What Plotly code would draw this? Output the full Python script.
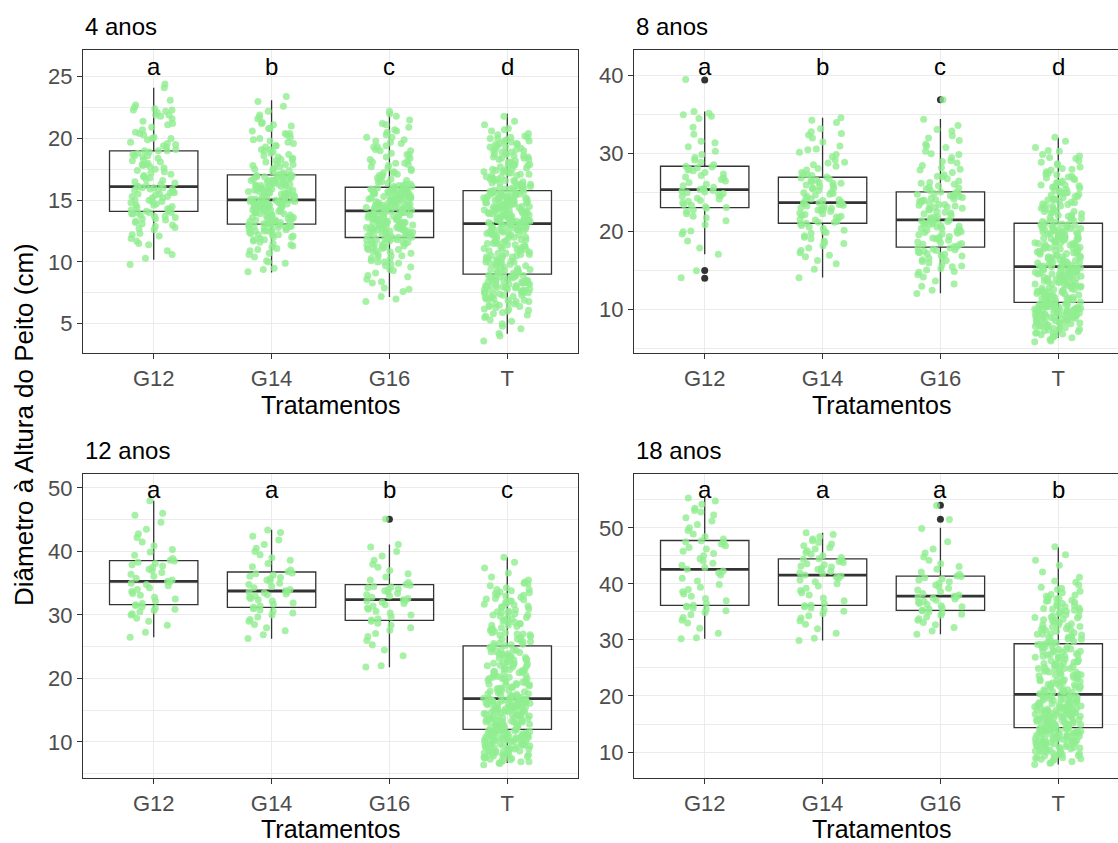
import plotly.graph_objects as go

# ---------------- data ----------------
categories = ["G12", "G14", "G16", "T"]
panel_titles = ["4 anos", "8 anos", "12 anos", "18 anos"]
letters_4 = ["a", "b", "c", "d"]
letters_8 = ["a", "b", "c", "d"]
letters_12 = ["a", "a", "b", "c"]
letters_18 = ["a", "a", "a", "b"]

# box statistics per treatment (G12, G14, G16, T)
q1_4 = [14.1, 13.06, 11.98, 9.02]
med_4 = [16.1, 15.03, 14.14, 13.11]
q3_4 = [19.0, 17.05, 16.05, 15.78]
lo_4 = [10.18, 9.15, 7.16, 4.19]
hi_4 = [24.1, 23.1, 22.1, 22.0]
out_4 = [[], [], [], []]

q1_8 = [23.1, 21.09, 18.02, 10.94]
med_8 = [25.4, 23.74, 21.52, 15.54]
q3_8 = [28.39, 26.98, 25.1, 21.09]
lo_8 = [17.1, 14.14, 12.13, 6.37]
hi_8 = [35.4, 34.62, 34.45, 32.06]
out_8 = [[39.45, 15.03, 14.05], [], [36.9], []]

q1_12 = [31.63, 31.2, 29.16, 12.0]
med_12 = [35.3, 33.78, 32.41, 16.82]
q3_12 = [38.56, 36.77, 34.78, 25.12]
lo_12 = [26.48, 26.27, 21.76, 6.7]
hi_12 = [48.0, 43.44, 41.08, 39.08]
out_12 = [[], [], [45.07], []]

q1_18 = [36.16, 36.16, 35.26, 14.35]
med_18 = [42.57, 41.56, 37.82, 20.29]
q3_18 = [47.74, 44.47, 41.38, 29.32]
lo_18 = [30.2, 29.9, 31.0, 7.8]
hi_18 = [55.3, 49.1, 50.0, 46.55]
out_18 = [[], [], [54.04, 51.54], []]

# individual trees (DAP, cm)
a4_G12 = [9.8, 10.3, 10.9, 11.4, 11.7, 11.9, 12.2, 12.3, 12.6, 12.8, 12.9, 13.1, 13.2, 13.3, 13.5, 13.5, 13.6, 13.7, 13.8, 13.9, 13.9, 14.0, 14.0, 14.1, 14.1,
          14.2, 14.3, 14.3, 14.5, 14.6, 14.6, 14.8, 14.9, 14.9, 15.0, 15.2, 15.2, 15.3, 15.4, 15.5, 15.6, 15.6, 15.7, 15.8, 15.9, 15.9, 16.0, 16.0, 16.1, 16.1,
          16.2, 16.3, 16.5, 16.6, 16.8, 16.9, 17.0, 17.2, 17.3, 17.4, 17.6, 17.7, 17.8, 17.9, 18.0, 18.1, 18.2, 18.4, 18.5, 18.6, 18.7, 18.8, 18.9, 19.0, 19.0,
          19.1, 19.3, 19.4, 19.6, 19.7, 19.9, 20.0, 20.1, 20.3, 20.4, 20.7, 20.9, 21.1, 21.4, 21.6, 21.8, 21.9, 22.1, 22.2, 22.3, 22.4, 22.7, 23.1, 24.1, 24.4,
          10.6, 11.5, 12.1, 12.7, 13.0, 13.4, 13.7, 14.0, 14.4, 14.7, 15.0, 15.3, 15.5, 15.8, 16.0, 16.4, 16.7, 17.1, 17.5, 17.9, 18.3, 18.6, 19.0, 19.5, 20.0,
          20.5, 21.2, 21.9, 22.3, 22.5]
a4_G14 = [9.2, 9.4, 9.9, 10.1, 10.4, 10.6, 10.9, 11.0, 11.2, 11.3, 11.5, 11.6, 11.7, 11.8, 11.9, 12.0, 12.1, 12.2, 12.2, 12.3, 12.4, 12.5, 12.5, 12.6, 12.7, 12.7, 12.8, 12.8, 12.9, 12.9, 13.0, 13.0, 13.0, 13.1, 13.1,
          13.2, 13.2, 13.3, 13.3, 13.4, 13.5, 13.5, 13.6, 13.6, 13.7, 13.8, 13.8, 13.9, 14.0, 14.0, 14.1, 14.1, 14.2, 14.3, 14.3, 14.4, 14.4, 14.5, 14.5, 14.6, 14.6, 14.7, 14.7, 14.8, 14.8, 14.9, 14.9, 15.0, 15.0, 15.0,
          15.1, 15.1, 15.2, 15.3, 15.3, 15.4, 15.5, 15.5, 15.6, 15.7, 15.7, 15.8, 15.9, 15.9, 16.0, 16.0, 16.1, 16.2, 16.2, 16.3, 16.3, 16.4, 16.5, 16.5, 16.6, 16.6, 16.7, 16.7, 16.8, 16.8, 16.9, 16.9, 17.0, 17.0, 17.0,
          17.1, 17.2, 17.4, 17.5, 17.6, 17.8, 17.9, 18.0, 18.2, 18.3, 18.4, 18.6, 18.7, 18.9, 19.0, 19.1, 19.3, 19.4, 19.6, 19.8, 19.9, 20.1, 20.3, 20.4, 20.6, 20.8, 21.0, 21.1, 21.3, 21.6, 21.9, 22.2, 22.6, 23.0, 23.4,
          9.5, 10.0, 10.7, 11.1, 11.4, 11.8, 12.0, 12.2, 12.4, 12.6, 12.8, 12.9, 13.1, 13.2, 13.4, 13.5, 13.7, 13.8, 13.9, 14.0, 14.1, 14.2, 14.3, 14.4, 14.5, 14.6, 14.7, 14.8, 14.9, 15.0,
          15.1, 15.2, 15.3, 15.4, 15.5, 15.6, 15.7, 15.8, 15.9, 16.0, 16.1, 16.2, 16.3, 16.4, 16.5, 16.6, 16.7, 16.8, 16.9, 17.0, 17.1, 17.3, 17.5, 17.7, 17.9, 18.1, 18.3, 18.5, 18.8, 19.1,
          19.4, 19.7, 20.0, 20.4, 20.8, 21.2, 21.7, 12.5, 13.3, 13.6, 14.2, 14.6, 15.0, 15.4, 15.8, 16.2, 16.6, 13.0, 14.8, 15.6]
a4_G16 = [6.8, 7.2, 7.6, 7.9, 8.3, 8.6, 8.9, 9.1, 9.4, 9.6, 9.8, 10.0, 10.1, 10.3, 10.4, 10.5, 10.7, 10.8, 10.9, 11.0, 11.1, 11.2, 11.2, 11.3, 11.4, 11.4, 11.5, 11.6, 11.6, 11.7, 11.7, 11.8, 11.8, 11.9, 11.9, 12.0, 12.0,
          12.1, 12.1, 12.2, 12.2, 12.3, 12.3, 12.4, 12.4, 12.5, 12.5, 12.6, 12.6, 12.7, 12.7, 12.8, 12.8, 12.9, 12.9, 13.0, 13.0, 13.1, 13.1, 13.2, 13.3, 13.3, 13.4, 13.4, 13.5, 13.5, 13.6, 13.7, 13.7, 13.8, 13.8, 13.9, 14.0, 14.0, 14.1,
          14.2, 14.2, 14.3, 14.3, 14.4, 14.4, 14.5, 14.5, 14.6, 14.6, 14.7, 14.7, 14.8, 14.8, 14.9, 14.9, 15.0, 15.0, 15.1, 15.1, 15.2, 15.2, 15.3, 15.3, 15.4, 15.4, 15.5, 15.5, 15.6, 15.6, 15.7, 15.7, 15.8, 15.8, 15.9, 15.9, 16.0, 16.0,
          16.1, 16.2, 16.3, 16.5, 16.6, 16.7, 16.9, 17.0, 17.2, 17.3, 17.4, 17.6, 17.7, 17.9, 18.0, 18.2, 18.3, 18.5, 18.7, 18.8, 19.0, 19.1, 19.3, 19.4, 19.6, 19.8, 19.9, 20.1, 20.3, 20.5, 20.7, 20.9, 21.2, 21.5, 21.8, 22.0, 22.2,
          7.0, 7.8, 8.4, 8.8, 9.3, 9.7, 10.0, 10.2, 10.5, 10.8, 11.0, 11.2, 11.4, 11.6, 11.8, 12.0, 12.1, 12.3, 12.4, 12.6, 12.7, 12.9, 13.0, 13.1, 13.2, 13.3, 13.4, 13.5, 13.6, 13.7,
          13.8, 13.9, 14.0, 14.1, 14.2, 14.3, 14.4, 14.5, 14.6, 14.7, 14.8, 14.9, 15.0, 15.1, 15.2, 15.3, 15.4, 15.5, 15.6, 15.7, 15.8, 15.9, 16.0, 16.2, 16.4, 16.6, 16.8, 17.0, 17.2, 17.5,
          17.8, 18.1, 18.4, 18.7, 19.0, 19.3, 19.7, 20.1, 20.6, 21.1, 11.1, 11.5, 11.9, 12.2, 12.5, 12.8, 13.1, 13.4, 13.7, 14.0, 14.3, 14.6, 14.9, 15.2, 15.5, 15.8, 16.1, 16.5,
          9.9, 10.6, 12.0, 12.6, 13.2, 13.8, 14.4, 15.0, 15.6, 16.3, 17.1, 18.0]
a4_T = [3.6, 4.2, 4.6, 5.0, 5.3, 5.5, 5.6, 5.8, 6.0, 6.1, 6.2, 6.3, 6.4, 6.5, 6.6, 6.7, 6.8, 6.9, 7.0, 7.0, 7.1, 7.2, 7.3, 7.3, 7.4, 7.5, 7.5, 7.6, 7.7, 7.7, 7.8, 7.8, 7.9, 7.9, 8.0, 8.0, 8.1, 8.1, 8.2, 8.2, 8.3, 8.3, 8.4, 8.4, 8.5, 8.5, 8.6, 8.6, 8.7, 8.7, 8.8, 8.8, 8.9, 8.9, 9.0,
        9.1, 9.2, 9.3, 9.3, 9.4, 9.5, 9.6, 9.7, 9.8, 9.9, 10.0, 10.0, 10.1, 10.2, 10.3, 10.4, 10.5, 10.5, 10.6, 10.7, 10.8, 10.9, 11.0, 11.0, 11.1, 11.2, 11.3, 11.4, 11.5, 11.5, 11.6, 11.7, 11.8, 11.9, 12.0, 12.0, 12.1, 12.2, 12.2, 12.3, 12.4, 12.4, 12.5, 12.6, 12.6, 12.7, 12.7, 12.8, 12.8, 12.9, 12.9, 13.0, 13.0, 13.1, 13.1,
        13.2, 13.2, 13.3, 13.3, 13.3, 13.4, 13.4, 13.5, 13.5, 13.6, 13.6, 13.7, 13.7, 13.8, 13.8, 13.9, 13.9, 14.0, 14.0, 14.0, 14.1, 14.1, 14.2, 14.2, 14.3, 14.3, 14.4, 14.4, 14.5, 14.5, 14.6, 14.6, 14.7, 14.7, 14.8, 14.8, 14.9, 14.9, 15.0, 15.0, 15.1, 15.1, 15.2, 15.2, 15.3, 15.3, 15.4, 15.4, 15.5, 15.5, 15.6, 15.6, 15.7, 15.7, 15.8,
        15.9, 15.9, 16.0, 16.1, 16.1, 16.2, 16.3, 16.3, 16.4, 16.5, 16.6, 16.6, 16.7, 16.8, 16.9, 17.0, 17.0, 17.1, 17.2, 17.3, 17.4, 17.5, 17.6, 17.7, 17.8, 17.9, 18.0, 18.1, 18.2, 18.3, 18.4, 18.5, 18.6, 18.7, 18.8, 18.9, 19.0, 19.1, 19.2, 19.3, 19.4, 19.5, 19.6, 19.7, 19.8, 19.9, 20.0, 20.1, 20.2, 20.4, 20.6, 20.8, 21.1, 21.4, 21.8,
        4.0, 4.8, 5.2, 5.7, 5.9, 6.2, 6.4, 6.6, 6.8, 6.9, 7.1, 7.2, 7.4, 7.5, 7.6, 7.7, 7.8, 7.9, 8.0, 8.1, 8.2, 8.3, 8.4, 8.5, 8.6, 8.7, 8.8, 8.9, 9.0, 9.1,
        9.2, 9.4, 9.5, 9.7, 9.8, 10.0, 10.1, 10.3, 10.4, 10.6, 10.7, 10.9, 11.0, 11.2, 11.3, 11.5, 11.6, 11.8, 11.9, 12.1, 12.2, 12.3, 12.5, 12.6, 12.7, 12.8, 12.9, 13.0, 13.1, 13.2,
        13.3, 13.4, 13.5, 13.6, 13.7, 13.8, 13.9, 14.0, 14.1, 14.2, 14.3, 14.4, 14.5, 14.6, 14.7, 14.8, 14.9, 15.0, 15.1, 15.2, 15.3, 15.4, 15.5, 15.6, 15.7, 15.8, 15.9, 16.0, 16.2, 16.4,
        16.5, 16.7, 16.9, 17.1, 17.3, 17.5, 17.7, 17.9, 18.1, 18.3, 18.5, 18.7, 18.9, 19.1, 19.3, 19.5, 19.8, 20.0, 20.3, 20.7,
        9.3, 9.9, 10.5, 11.1, 11.7, 12.2, 12.6, 13.0, 13.3, 13.6, 13.9, 14.2, 14.5, 14.8, 15.1, 15.4, 15.7, 16.0, 16.6, 17.2, 17.8, 18.4, 19.0, 19.6,
        6.5, 7.0, 7.5, 8.0, 8.4, 8.8, 10.2, 11.4, 12.4, 13.4, 14.4, 15.2, 16.3, 17.4, 18.6, 20.1]

a8_G12 = [14.1, 15.0, 17.1, 17.9, 18.8, 19.7, 20.0, 20.1, 20.9, 21.4, 21.8, 22.0, 22.3, 22.6, 22.8, 23.0, 23.1,
          23.2, 23.4, 23.5, 23.7, 23.9, 24.0, 24.2, 24.3, 24.5, 24.6, 24.8, 24.9, 25.0, 25.1, 25.2, 25.3, 25.4, 25.4,
          25.5, 25.7, 25.9, 26.1, 26.3, 26.5, 26.7, 26.9, 27.0, 27.2, 27.4, 27.6, 27.8, 27.9, 28.0, 28.2, 28.3, 28.4,
          28.6, 28.9, 29.2, 29.5, 29.9, 30.3, 30.9, 31.4, 31.6, 32.5, 33.4, 34.5, 34.8, 35.0, 35.2, 35.4, 39.5]
a8_G14 = [14.1, 15.2, 15.9, 16.3, 16.8, 17.3, 17.6, 17.9, 18.2, 18.5, 18.8, 19.1, 19.3, 19.5, 19.8, 20.0, 20.2, 20.4, 20.6, 20.8, 21.0, 21.1,
          21.2, 21.3, 21.5, 21.6, 21.8, 21.9, 22.0, 22.2, 22.3, 22.4, 22.6, 22.7, 22.8, 22.9, 23.0, 23.1, 23.2, 23.3, 23.4, 23.5, 23.6, 23.7, 23.7,
          23.8, 24.0, 24.2, 24.3, 24.5, 24.7, 24.8, 25.0, 25.1, 25.3, 25.5, 25.6, 25.8, 25.9, 26.0, 26.2, 26.3, 26.4, 26.5, 26.6, 26.8, 26.9, 27.0,
          27.2, 27.4, 27.6, 27.9, 28.1, 28.4, 28.6, 28.9, 29.2, 29.6, 29.9, 30.2, 30.6, 31.0, 31.5, 32.0, 32.4, 32.8, 33.2, 34.0, 34.3, 34.6,
          17.0, 18.6, 19.9, 21.2, 22.1, 22.9, 23.6, 24.1, 24.9, 25.6, 26.2, 27.3, 28.8, 30.5, 32.6]
a8_G16 = [12.1, 12.5, 13.3, 13.7, 14.2, 14.5, 14.8, 15.1, 15.3, 15.6, 15.8, 16.0, 16.2, 16.4, 16.6, 16.7, 16.9, 17.0, 17.2, 17.3, 17.4, 17.5, 17.6, 17.7, 17.8, 17.9, 18.0,
          18.1, 18.3, 18.4, 18.6, 18.7, 18.9, 19.0, 19.1, 19.3, 19.4, 19.6, 19.7, 19.9, 20.0, 20.1, 20.3, 20.4, 20.6, 20.7, 20.8, 20.9, 21.0, 21.1, 21.2, 21.3, 21.4, 21.5, 21.5,
          21.6, 21.8, 21.9, 22.1, 22.3, 22.4, 22.6, 22.8, 22.9, 23.1, 23.2, 23.4, 23.5, 23.6, 23.8, 23.9, 24.0, 24.1, 24.2, 24.3, 24.4, 24.5, 24.6, 24.7, 24.8, 24.9, 25.0, 25.1,
          25.3, 25.5, 25.7, 25.9, 26.1, 26.3, 26.5, 26.8, 27.0, 27.3, 27.6, 27.9, 28.2, 28.5, 28.8, 29.1, 29.5, 29.9, 30.3, 30.8, 31.2, 31.7, 32.3, 32.9, 33.6, 34.4, 36.9,
          13.0, 14.9, 16.3, 17.1, 17.9, 18.5, 19.2, 19.8, 20.4, 21.0, 21.4, 21.9, 22.5, 23.0, 23.5, 24.0, 24.5, 25.0, 25.6, 26.2, 27.1, 28.0, 29.0, 30.0, 31.0,
          32.0, 33.1, 15.5, 20.2, 23.3]
a8_T = [5.9, 6.2, 6.4, 6.6, 6.8, 7.0, 7.1, 7.3, 7.4, 7.5, 7.7, 7.8, 7.9, 8.0, 8.1, 8.2, 8.3, 8.4, 8.5, 8.6, 8.7, 8.8, 8.9, 9.0, 9.0, 9.1, 9.2, 9.3, 9.3, 9.4, 9.5, 9.5, 9.6, 9.7, 9.7, 9.8, 9.9, 9.9, 10.0, 10.0, 10.1, 10.1, 10.2, 10.2, 10.3, 10.3, 10.4, 10.4, 10.5, 10.5, 10.6, 10.7, 10.7, 10.8, 10.9,
        11.0, 11.1, 11.2, 11.3, 11.4, 11.5, 11.6, 11.7, 11.8, 11.9, 12.0, 12.1, 12.2, 12.3, 12.3, 12.4, 12.5, 12.6, 12.7, 12.8, 12.9, 13.0, 13.1, 13.2, 13.3, 13.3, 13.4, 13.5, 13.6, 13.7, 13.8, 13.9, 14.0, 14.0, 14.1, 14.2, 14.3, 14.4, 14.5, 14.6, 14.6, 14.7, 14.8, 14.9, 14.9, 15.0, 15.1, 15.1, 15.2, 15.3, 15.3, 15.4, 15.4, 15.5, 15.5,
        15.6, 15.7, 15.8, 15.9, 16.0, 16.1, 16.2, 16.3, 16.4, 16.5, 16.6, 16.7, 16.8, 16.9, 17.0, 17.1, 17.2, 17.3, 17.4, 17.5, 17.6, 17.7, 17.8, 17.9, 18.0, 18.1, 18.2, 18.3, 18.4, 18.5, 18.6, 18.7, 18.8, 18.9, 19.0, 19.1, 19.2, 19.3, 19.4, 19.5, 19.6, 19.7, 19.8, 19.9, 20.0, 20.1, 20.2, 20.3, 20.4, 20.5, 20.6, 20.7, 20.8, 20.9, 21.1,
        21.2, 21.4, 21.5, 21.7, 21.8, 22.0, 22.1, 22.3, 22.4, 22.6, 22.7, 22.9, 23.0, 23.2, 23.3, 23.5, 23.6, 23.8, 23.9, 24.1, 24.2, 24.4, 24.5, 24.7, 24.8, 25.0, 25.1, 25.3, 25.4, 25.6, 25.7, 25.9, 26.0, 26.2, 26.3, 26.5, 26.7, 26.9, 27.1, 27.3, 27.5, 27.7, 27.9, 28.1, 28.3, 28.6, 28.9, 29.1, 29.4, 29.7, 29.9, 30.3, 30.8, 31.6, 32.1,
        6.0, 6.5, 6.9, 7.2, 7.6, 7.9, 8.2, 8.5, 8.7, 8.9, 9.1, 9.3, 9.5, 9.6, 9.8, 10.0, 10.2, 10.4, 10.6, 10.8, 11.0, 11.3, 11.6, 11.9, 12.2, 12.5, 12.8, 13.1, 13.4, 13.7,
        14.0, 14.3, 14.6, 14.9, 15.2, 15.5, 15.8, 16.1, 16.4, 16.7, 17.0, 17.3, 17.6, 17.9, 18.2, 18.5, 18.8, 19.1, 19.4, 19.7, 20.0, 20.3, 20.6, 20.9, 21.3, 21.7, 22.1, 22.5, 22.9, 23.3,
        23.7, 24.1, 24.5, 24.9, 25.3, 25.8, 26.3, 26.8, 27.4, 28.0, 28.7, 29.5, 30.4,
        7.0, 7.7, 8.3, 8.8, 9.2, 9.7, 10.1, 10.5, 10.9, 11.4, 12.0, 12.6, 13.2, 13.8, 14.4, 15.0, 15.6, 16.2, 16.8, 17.4, 18.0, 18.6, 19.2, 19.8, 20.4, 21.0, 21.8, 22.6, 23.4, 24.2,
        25.0, 26.0, 27.0, 6.7, 7.4, 8.0, 8.6, 9.0, 9.4, 9.9, 10.3, 10.7, 11.2, 11.8, 12.4, 13.0, 13.6, 14.2, 14.8, 15.4, 16.0, 16.6, 17.2, 17.8, 18.4, 19.0, 19.6, 20.2, 20.8]

a12_G12 = [26.5, 27.3, 28.4, 29.0, 29.5, 30.0, 30.2, 30.5, 30.7, 30.9, 31.1, 31.3, 31.5, 31.6,
           31.8, 32.2, 32.5, 32.8, 33.1, 33.4, 33.7, 34.0, 34.3, 34.6, 34.8, 35.0, 35.2, 35.3,
           35.5, 35.8, 36.1, 36.4, 36.7, 37.0, 37.2, 37.5, 37.7, 37.9, 38.1, 38.3, 38.5, 38.6,
           38.9, 39.4, 39.9, 40.3, 40.9, 41.5, 42.2, 42.8, 43.5, 44.6, 45.7, 46.0, 48.0]
a12_G14 = [26.3, 26.9, 27.5, 28.0, 28.5, 29.0, 29.3, 29.7, 30.0, 30.3, 30.6, 30.8, 31.0, 31.2,
           31.4, 31.7, 31.9, 32.2, 32.4, 32.6, 32.8, 33.0, 33.2, 33.3, 33.5, 33.6, 33.7, 33.8,
           34.0, 34.3, 34.5, 34.8, 35.0, 35.3, 35.5, 35.7, 35.9, 36.1, 36.3, 36.5, 36.6, 36.8,
           37.1, 37.6, 38.1, 38.6, 39.0, 39.5, 40.0, 40.5, 41.1, 41.8, 42.4, 43.0, 43.4]
a12_G16 = [21.8, 22.0, 23.6, 24.5, 25.3, 26.0, 26.6, 27.1, 27.6, 28.0, 28.4, 28.7, 29.0, 29.2,
           29.4, 29.7, 30.0, 30.3, 30.6, 30.9, 31.1, 31.4, 31.6, 31.8, 32.0, 32.2, 32.3, 32.4,
           32.6, 32.8, 33.0, 33.2, 33.4, 33.6, 33.8, 34.0, 34.1, 34.3, 34.4, 34.5, 34.7, 34.8,
           35.1, 35.5, 36.0, 36.5, 37.0, 37.5, 38.0, 38.6, 39.3, 40.0, 40.7, 41.1, 45.1]
a12_T = [6.4, 6.7, 6.9, 7.1, 7.3, 7.5, 7.6, 7.8, 7.9, 8.0, 8.2, 8.3, 8.4, 8.5, 8.6, 8.8, 8.9, 9.0, 9.1, 9.2, 9.3, 9.4, 9.5, 9.6, 9.7, 9.8, 9.9, 10.0, 10.1, 10.2, 10.3, 10.3, 10.4, 10.5, 10.6, 10.7, 10.7, 10.8, 10.9, 11.0, 11.0, 11.1, 11.2, 11.2, 11.3, 11.4, 11.4, 11.5, 11.6, 11.6, 11.7, 11.8, 11.8, 11.9, 12.0,
         12.1, 12.2, 12.3, 12.4, 12.5, 12.6, 12.7, 12.8, 12.9, 13.0, 13.1, 13.2, 13.3, 13.4, 13.5, 13.6, 13.7, 13.8, 13.9, 14.0, 14.1, 14.2, 14.3, 14.4, 14.5, 14.6, 14.7, 14.8, 14.9, 15.0, 15.1, 15.2, 15.3, 15.4, 15.5, 15.5, 15.6, 15.7, 15.8, 15.9, 16.0, 16.0, 16.1, 16.2, 16.2, 16.3, 16.4, 16.4, 16.5, 16.5, 16.6, 16.6, 16.7, 16.7, 16.8,
         16.9, 17.0, 17.2, 17.3, 17.5, 17.6, 17.8, 17.9, 18.1, 18.2, 18.4, 18.5, 18.7, 18.8, 19.0, 19.1, 19.3, 19.4, 19.6, 19.7, 19.9, 20.0, 20.2, 20.3, 20.5, 20.6, 20.8, 20.9, 21.1, 21.2, 21.4, 21.5, 21.7, 21.8, 22.0, 22.1, 22.3, 22.4, 22.6, 22.7, 22.9, 23.0, 23.2, 23.3, 23.5, 23.6, 23.8, 23.9, 24.1, 24.2, 24.4, 24.5, 24.7, 24.9, 25.1,
         25.2, 25.4, 25.6, 25.8, 26.0, 26.2, 26.4, 26.6, 26.8, 27.0, 27.2, 27.4, 27.6, 27.8, 28.0, 28.2, 28.4, 28.6, 28.8, 29.0, 29.2, 29.4, 29.6, 29.8, 30.0, 30.2, 30.4, 30.6, 30.8, 31.0, 31.2, 31.4, 31.6, 31.8, 32.0, 32.2, 32.4, 32.6, 32.8, 33.0, 33.2, 33.4, 33.6, 33.8, 34.0, 34.3, 34.6, 34.9, 35.2, 35.5, 36.0, 36.6, 37.4, 38.3, 39.1,
         6.6, 7.0, 7.4, 7.7, 8.0, 8.3, 8.6, 8.9, 9.2, 9.5, 9.8, 10.1, 10.4, 10.7, 11.0, 11.3, 11.6, 11.9, 12.2, 12.5, 12.8, 13.1, 13.4, 13.7, 14.0, 14.3, 14.6, 14.9, 15.2, 15.5,
         15.8, 16.1, 16.4, 16.7, 17.0, 17.4, 17.8, 18.2, 18.6, 19.0, 19.5, 20.0, 20.5, 21.0, 21.5, 22.0, 22.5, 23.0, 23.6, 24.2, 24.8, 25.5, 26.2, 27.0, 27.8, 28.6, 29.5, 30.4, 31.3, 32.2,
         33.1, 34.0, 35.0, 7.2, 7.9, 8.5, 9.0, 9.6, 10.2, 10.8, 11.4, 12.0, 12.6, 13.2, 13.8, 14.4, 15.0, 15.6, 16.2, 16.9, 17.6, 18.4, 19.2, 20.2, 21.2, 22.2, 23.3, 24.5, 25.8, 27.2,
         28.8, 30.5, 32.5, 6.9, 7.6, 8.2, 8.8, 9.4, 10.0, 10.6, 11.2, 11.8, 12.4, 13.0, 13.6, 14.2, 14.8, 15.4, 16.0, 16.6, 17.2, 18.0, 19.0, 20.0, 21.1, 22.4, 23.8, 25.3, 26.9, 28.4,
         30.0, 31.7, 33.5]

a18_G12 = [30.2, 30.4, 31.2, 32.1, 33.0, 33.5, 34.0, 34.5, 34.9, 35.2, 35.5, 35.7, 35.9, 36.0, 36.2,
           36.5, 37.0, 37.4, 37.8, 38.2, 38.6, 39.0, 39.4, 39.9, 40.5, 41.0, 41.6, 42.0, 42.3, 42.6,
           42.9, 43.3, 43.7, 44.1, 44.5, 45.0, 45.4, 45.8, 46.2, 46.5, 46.8, 47.1, 47.3, 47.5, 47.7,
           48.0, 48.4, 48.9, 49.5, 50.0, 50.6, 51.2, 51.8, 52.3, 52.8, 53.1, 53.5, 54.2, 54.8, 55.3]
a18_G14 = [29.9, 30.3, 31.2, 32.0, 32.8, 33.4, 33.9, 34.3, 34.7, 35.1, 35.4, 35.7, 35.9, 36.1, 36.2,
           36.5, 37.0, 37.5, 38.0, 38.4, 38.8, 39.2, 39.6, 40.0, 40.4, 40.7, 41.0, 41.2, 41.4, 41.6,
           41.8, 42.0, 42.2, 42.4, 42.6, 42.8, 43.0, 43.2, 43.4, 43.6, 43.8, 44.0, 44.2, 44.4, 44.5,
           44.7, 45.0, 45.3, 45.6, 45.9, 46.2, 46.5, 46.8, 47.1, 47.4, 47.7, 48.0, 48.4, 48.8, 49.1]
a18_G16 = [31.0, 31.6, 32.2, 32.7, 33.1, 33.5, 33.8, 34.1, 34.4, 34.6, 34.8, 35.0, 35.2, 35.3,
           35.5, 35.7, 35.9, 36.1, 36.3, 36.5, 36.7, 36.9, 37.1, 37.3, 37.5, 37.6, 37.7, 37.8,
           38.0, 38.3, 38.6, 38.9, 39.2, 39.5, 39.8, 40.1, 40.4, 40.7, 40.9, 41.1, 41.3, 41.4,
           41.7, 42.1, 42.6, 43.1, 43.6, 44.2, 44.8, 45.5, 46.2, 47.5, 49.9, 51.5, 54.0]
a18_T = [7.8, 8.0, 8.3, 8.5, 8.7, 8.9, 9.1, 9.3, 9.5, 9.7, 9.8, 10.0, 10.1, 10.3, 10.4, 10.6, 10.7, 10.9, 11.0, 11.1, 11.3, 11.4, 11.5, 11.6, 11.7, 11.8, 11.9, 12.0, 12.1, 12.2, 12.3, 12.4, 12.5, 12.6, 12.7, 12.8, 12.9, 13.0, 13.1, 13.2, 13.3, 13.4, 13.5, 13.5, 13.6, 13.7, 13.8, 13.8, 13.9, 14.0, 14.0, 14.1, 14.2, 14.3, 14.3,
         14.4, 14.5, 14.6, 14.7, 14.8, 14.9, 15.0, 15.1, 15.2, 15.3, 15.4, 15.5, 15.6, 15.7, 15.8, 15.9, 16.0, 16.1, 16.2, 16.3, 16.4, 16.5, 16.6, 16.7, 16.8, 16.9, 17.0, 17.1, 17.2, 17.3, 17.4, 17.5, 17.6, 17.7, 17.8, 17.9, 18.0, 18.1, 18.3, 18.4, 18.5, 18.7, 18.8, 18.9, 19.0, 19.2, 19.3, 19.4, 19.6, 19.7, 19.8, 19.9, 20.0, 20.2, 20.3,
         20.4, 20.6, 20.8, 20.9, 21.1, 21.3, 21.4, 21.6, 21.8, 21.9, 22.1, 22.3, 22.4, 22.6, 22.8, 22.9, 23.1, 23.3, 23.4, 23.6, 23.8, 23.9, 24.1, 24.3, 24.4, 24.6, 24.8, 24.9, 25.1, 25.3, 25.4, 25.6, 25.8, 25.9, 26.1, 26.3, 26.4, 26.6, 26.8, 26.9, 27.1, 27.3, 27.4, 27.6, 27.8, 27.9, 28.1, 28.3, 28.4, 28.6, 28.8, 28.9, 29.0, 29.2, 29.3,
         29.5, 29.7, 29.9, 30.1, 30.3, 30.5, 30.7, 30.9, 31.1, 31.3, 31.5, 31.7, 31.9, 32.1, 32.3, 32.5, 32.7, 32.9, 33.1, 33.3, 33.5, 33.7, 33.9, 34.1, 34.3, 34.5, 34.7, 34.9, 35.1, 35.3, 35.5, 35.7, 35.9, 36.1, 36.3, 36.5, 36.7, 36.9, 37.1, 37.3, 37.5, 37.8, 38.1, 38.4, 38.7, 39.0, 39.4, 39.8, 40.3, 41.2, 42.1, 43.3, 44.2, 45.2, 46.6,
         8.1, 8.6, 9.0, 9.4, 9.8, 10.2, 10.6, 11.0, 11.3, 11.6, 11.9, 12.2, 12.5, 12.8, 13.1, 13.4, 13.7, 14.0, 14.3, 14.6, 14.9, 15.2, 15.5, 15.8, 16.1, 16.4, 16.7, 17.0, 17.3, 17.6,
         17.9, 18.2, 18.6, 19.0, 19.4, 19.8, 20.2, 20.7, 21.2, 21.7, 22.2, 22.7, 23.2, 23.7, 24.3, 24.9, 25.5, 26.1, 26.7, 27.3, 28.0, 28.7, 29.4, 30.2, 31.0, 31.8, 32.6, 33.4, 34.3, 35.2,
         36.1, 37.0, 38.0, 39.2, 40.5, 9.2, 10.0, 10.8, 11.5, 12.1, 12.7, 13.3, 13.9, 14.5, 15.1, 15.7, 16.3, 16.9, 17.5, 18.1, 18.8, 19.5, 20.3, 21.1, 22.0, 22.9, 23.9, 24.9, 26.0, 27.1,
         28.3, 29.6, 31.0, 32.4, 34.0, 35.6, 37.4, 8.8, 9.6, 10.4, 11.2, 11.8, 12.4, 13.0, 13.6, 14.2, 14.8, 15.4, 16.0, 16.6, 17.2, 17.8, 18.4, 19.2, 20.0, 20.9, 21.8, 22.8, 23.8, 24.8,
         25.8, 26.9, 28.0, 29.2, 30.5, 32.0, 33.6, 35.3]

# y-axis settings per panel
y_ranges = [[2.63, 27.16], [4.46, 43.29], [4.33, 52.2], [5.37, 59.6]]
y_dticks = [5, 10, 10, 10]

# ---------------- styling / layout ----------------
W, H = 1118, 843
FONT = "Liberation Sans, Arial, sans-serif"
DARK = "#333333"
GRID = "#EBEBEB"
PT_COLOR = "rgba(144,238,144,0.8)"
BOX_W = 0.75
JIT_W = 0.2

# pixel boxes of panels (left, right, top, bottom)
panels_px = [(83, 578, 50, 353), (634, 1129, 50, 353), (83, 578, 474, 778), (634, 1129, 474, 778)]
xtitle_mid_px = [405, 405, 829, 829]

panels = [
    dict(title=panel_titles[0], letters=letters_4, q1=q1_4, med=med_4, q3=q3_4, lo=lo_4, hi=hi_4, out=out_4,
         pts=[a4_G12, a4_G14, a4_G16, a4_T]),
    dict(title=panel_titles[1], letters=letters_8, q1=q1_8, med=med_8, q3=q3_8, lo=lo_8, hi=hi_8, out=out_8,
         pts=[a8_G12, a8_G14, a8_G16, a8_T]),
    dict(title=panel_titles[2], letters=letters_12, q1=q1_12, med=med_12, q3=q3_12, lo=lo_12, hi=hi_12, out=out_12,
         pts=[a12_G12, a12_G14, a12_G16, a12_T]),
    dict(title=panel_titles[3], letters=letters_18, q1=q1_18, med=med_18, q3=q3_18, lo=lo_18, hi=hi_18, out=out_18,
         pts=[a18_G12, a18_G14, a18_G16, a18_T]),
]


def jitter(n, width):
    # deterministic quadratic Weyl sequence for horizontal spreading
    res = []
    for k in range(n):
        u = (k * 0.7548776662 + (k * k * 0.5698402910) % 1.0) % 1.0
        res.append((u - 0.5) * 2 * width)
    return res


fig = go.Figure()
annotations = []
layout_axes = {}

for p, panel in enumerate(panels):
    xa = "x" if p == 0 else f"x{p + 1}"
    ya = "y" if p == 0 else f"y{p + 1}"
    left, right, top, bottom = panels_px[p]
    px_per_unit = (right - left) / 4.2
    vis_right = min(right, W)
    x_hi = 0.4 + (vis_right - left) / px_per_unit
    positions = list(range(1, len(categories) + 1))

    # boxes
    for i, pos in enumerate(positions):
        fig.add_trace(go.Box(
            x=[pos], q1=[panel["q1"][i]], median=[panel["med"][i]], q3=[panel["q3"][i]],
            lowerfence=[panel["lo"][i]], upperfence=[panel["hi"][i]],
            width=BOX_W, boxpoints=False, whiskerwidth=0,
            fillcolor="rgba(0,0,0,0)", line=dict(color=DARK, width=1.3),
            xaxis=xa, yaxis=ya, showlegend=False, hoverinfo="skip"))
    # thick median lines and outliers
    for i, pos in enumerate(positions):
        fig.add_trace(go.Scatter(
            x=[pos - BOX_W / 2, pos + BOX_W / 2], y=[panel["med"][i]] * 2, mode="lines",
            line=dict(color=DARK, width=2.8), xaxis=xa, yaxis=ya, showlegend=False, hoverinfo="skip"))
        if panel["out"][i]:
            fig.add_trace(go.Scatter(
                x=[pos] * len(panel["out"][i]), y=panel["out"][i], mode="markers",
                marker=dict(color=DARK, size=7), xaxis=xa, yaxis=ya, showlegend=False, hoverinfo="skip"))
    # jittered points
    for i, pos in enumerate(positions):
        vals = panel["pts"][i]
        offs = jitter(len(vals), JIT_W)
        fig.add_trace(go.Scatter(
            x=[pos + o for o in offs], y=vals, mode="markers",
            marker=dict(color=PT_COLOR, size=7, line=dict(width=0)),
            xaxis=xa, yaxis=ya, showlegend=False, hoverinfo="skip"))

    xdom = [left / W, vis_right / W]
    ydom = [1 - bottom / H, 1 - top / H]
    is_right = left > W / 2
    dt = y_dticks[p]
    layout_axes["xaxis" if p == 0 else f"xaxis{p + 1}"] = dict(
        domain=xdom, anchor=ya, range=[0.4, x_hi], tickvals=positions, ticktext=categories,
        showgrid=True, gridcolor=GRID, gridwidth=1.1, zeroline=False,
        showline=True, linecolor=DARK, linewidth=1.2, mirror=True,
        ticks="outside", ticklen=5, tickwidth=1.1, tickcolor=DARK,
        tickfont=dict(family=FONT, size=22, color="#4D4D4D"), fixedrange=True)
    layout_axes["yaxis" if p == 0 else f"yaxis{p + 1}"] = dict(
        domain=ydom, anchor=xa, range=y_ranges[p], dtick=dt, tick0=0,
        showgrid=True, gridcolor=GRID, gridwidth=1.1, zeroline=False,
        minor=dict(dtick=dt / 2, tick0=0, showgrid=True, gridcolor=GRID, gridwidth=0.6),
        showline=True, linecolor=DARK, linewidth=1.2, mirror=(not is_right),
        ticks="outside", ticklen=5, tickwidth=1.1, tickcolor=DARK,
        tickfont=dict(family=FONT, size=22, color="#4D4D4D"), fixedrange=True)

    # significance letters
    for i, pos in enumerate(positions):
        annotations.append(dict(
            x=pos, xref=xa, y=1, yref=f"{ya} domain", yanchor="middle", yshift=-16,
            text=panel["letters"][i], showarrow=False,
            font=dict(family=FONT, size=24, color="black")))
    # panel titles
    annotations.append(dict(
        x=left / W, xref="paper", xanchor="left", y=1 - (top - 23.5) / H, yref="paper", yanchor="middle",
        text=panel["title"], showarrow=False, font=dict(family=FONT, size=24, color="black")))
    # x axis titles
    annotations.append(dict(
        x=(left + right) / 2 / W, xref="paper", xanchor="center", y=1 - xtitle_mid_px[p] / H, yref="paper",
        yanchor="middle", text="Tratamentos", showarrow=False,
        font=dict(family=FONT, size=25, color="black")))

# shared y title
annotations.append(dict(
    x=24 / W, xref="paper", xanchor="center", y=1 - 425 / H, yref="paper", yanchor="middle",
    text="Diâmetro à Altura do Peito (cm)", textangle=-90, showarrow=False,
    font=dict(family=FONT, size=26, color="black")))

fig.update_layout(
    width=W, height=H, margin=dict(l=0, r=0, t=0, b=0),
    paper_bgcolor="white", plot_bgcolor="white",
    font=dict(family=FONT), showlegend=False, annotations=annotations,
    **layout_axes)

fig.write_html("out.html", config={"displayModeBar": False},
               post_script="document.body.style.margin='0';document.body.style.padding='0';"
                           "document.body.style.overflow='hidden';")
